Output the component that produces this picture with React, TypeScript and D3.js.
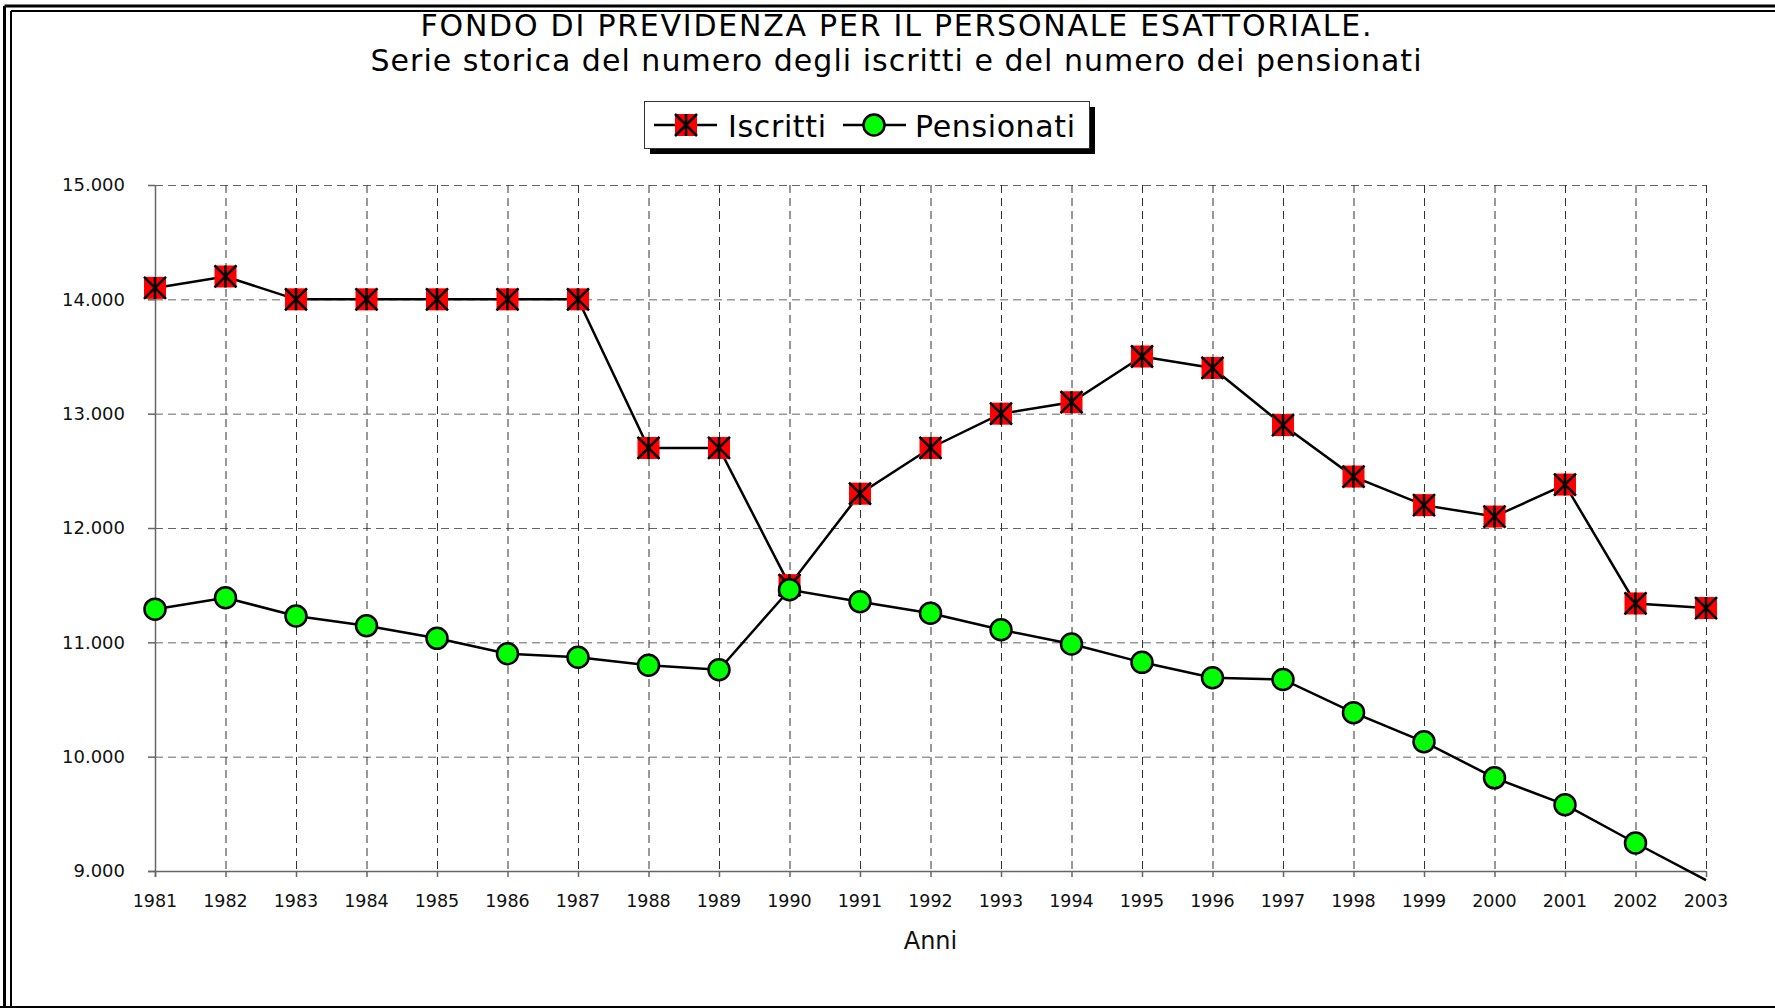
import { formatLocale, line, scaleLinear, scalePoint } from 'd3'

const years = [
  '1981', '1982', '1983', '1984', '1985', '1986', '1987', '1988', '1989', '1990', '1991', '1992',
  '1993', '1994', '1995', '1996', '1997', '1998', '1999', '2000', '2001', '2002', '2003',
]
const iscritti = [
  14100, 14200, 14000, 14000, 14000, 14000, 14000, 12700, 12700, 11500, 12300, 12700,
  13000, 13100, 13500, 13400, 12900, 12450, 12200, 12100, 12380, 11340, 11300,
]
const pensionati = [
  11290, 11390, 11230, 11145, 11035, 10900, 10870, 10800, 10760, 11460, 11355, 11255,
  11110, 10985, 10825, 10690, 10675, 10385, 10130, 9815, 9580, 9245, 8920,
]
const yTicks = [9000, 10000, 11000, 12000, 13000, 14000, 15000]
const titleLines = [
  'FONDO DI PREVIDENZA PER IL PERSONALE ESATTORIALE.',
  'Serie storica del numero degli iscritti e del numero dei pensionati',
]

const width = 1775
const height = 1008
const plot = { left: 155, right: 1706, top: 185, bottom: 871 }
const font = '"DejaVu Sans", Verdana, sans-serif'

const fmt = formatLocale({ decimal: ',', thousands: '.', grouping: [3], currency: ['', ''] }).format(',d')

const x = scalePoint<string>().domain(years).range([plot.left, plot.right])
const y = scaleLinear().domain([9000, 15000]).range([plot.bottom, plot.top])

// title line widths measured on the reference (its font runs a bit wider than DejaVu)
const titleWidths = [951, 1051]
const titleBaselines = [36, 71]

const CrossMarker = ({ cx, cy, s = 11 }: { cx: number; cy: number; s?: number }) => (
  <g>
    <rect x={cx - s} y={cy - s} width={s * 2} height={s * 2} fill="#ff0000" />
    <path
      d={`M${cx - s},${cy - s}L${cx + s},${cy + s}M${cx + s},${cy - s}L${cx - s},${cy + s}M${cx},${cy - s}L${cx},${cy + s}`}
      stroke="#000"
      strokeWidth={2.5}
    />
  </g>
)

const CircleMarker = ({ cx, cy }: { cx: number; cy: number }) => (
  <circle cx={cx} cy={cy} r={10.5} fill="#00ff00" stroke="#000" strokeWidth={2.5} />
)

const App = () => {
  const path = line<number>()
    .x((_, i) => x(years[i]) ?? 0)
    .y((d) => y(d))

  return (
    <svg
      width={width}
      height={height}
      style={{ position: 'absolute', left: 0, top: 0, background: '#fff', fontFamily: font }}
    >
      <rect width={width} height={height} fill="#fff" />

      {/* double frame */}
      <line x1={4.5} y1={6} x2={width} y2={6} stroke="#000" strokeWidth={3} />
      <line x1={4.5} y1={6} x2={4.5} y2={height} stroke="#000" strokeWidth={3} />
      <line x1={11} y1={11} x2={width} y2={11} stroke="#000" strokeWidth={2} />
      <line x1={11} y1={11} x2={11} y2={height} stroke="#000" strokeWidth={2} />
      <line x1={0} y1={height - 1} x2={width} y2={height - 1} stroke="#000" strokeWidth={2} />

      {/* title */}
      {titleLines.map((t, i) => (
        <text
          key={t}
          x={896 - titleWidths[i] / 2}
          y={titleBaselines[i]}
          fontSize={30}
          fill="#000"
          textLength={titleWidths[i]}
          lengthAdjust="spacing"
        >
          {t}
        </text>
      ))}

      {/* legend */}
      <g>
        <rect x={650} y={107} width={445} height={47} fill="#000" />
        <rect x={644.5} y={101.5} width={445} height={47} fill="#fff" stroke="#333" strokeWidth={1} />
        <line x1={654} x2={717} y1={125} y2={125} stroke="#000" strokeWidth={2.5} />
        <CrossMarker cx={686} cy={125} />
        <text x={728} y={137} fontSize={30} fill="#000" textLength={98} lengthAdjust="spacing">
          Iscritti
        </text>
        <line x1={843} x2={906} y1={125} y2={125} stroke="#000" strokeWidth={2.5} />
        <CircleMarker cx={874} cy={125} />
        <text x={915} y={137} fontSize={30} fill="#000" textLength={160} lengthAdjust="spacing">
          Pensionati
        </text>
      </g>

      {/* grid */}
      <g stroke="#666" strokeWidth={1} strokeDasharray="8,5" fill="none">
        {yTicks.slice(1).map((t) => (
          <line key={t} x1={plot.left} x2={plot.right} y1={y(t) + 0.5} y2={y(t) + 0.5} />
        ))}
      </g>
      <g stroke="#333" strokeWidth={1} strokeDasharray="8,5" fill="none">
        {years.slice(1).map((yr) => (
          <line key={yr} x1={(x(yr) ?? 0) + 0.5} x2={(x(yr) ?? 0) + 0.5} y1={plot.top} y2={plot.bottom} />
        ))}
      </g>

      {/* axes */}
      <g stroke="#666" strokeWidth={1.5}>
        <line x1={plot.left + 0.5} x2={plot.left + 0.5} y1={plot.top} y2={plot.bottom + 6} />
        <line x1={plot.left - 7} x2={plot.right} y1={plot.bottom + 0.5} y2={plot.bottom + 0.5} />
        {yTicks.map((t) => (
          <line key={t} x1={plot.left - 7} x2={plot.left} y1={y(t) + 0.5} y2={y(t) + 0.5} />
        ))}
        {years.map((yr) => (
          <line key={yr} x1={(x(yr) ?? 0) + 0.5} x2={(x(yr) ?? 0) + 0.5} y1={plot.bottom} y2={plot.bottom + 6} />
        ))}
      </g>

      <g fontSize={18} fill="#111">
        {yTicks.map((t) => (
          <text key={t} x={125} y={y(t)} dy="0.36em" textAnchor="end">
            {fmt(t)}
          </text>
        ))}
        {years.map((yr) => (
          <text key={yr} x={x(yr)} y={907} textAnchor="middle" fontSize={17.5}>
            {yr}
          </text>
        ))}
      </g>
      <text x={(plot.left + plot.right) / 2} y={949} textAnchor="middle" fontSize={24} fill="#111">
        Anni
      </text>

      {/* series */}
      <path d={path(iscritti) ?? ''} fill="none" stroke="#000" strokeWidth={2.5} />
      {iscritti.map((v, i) => (
        <CrossMarker key={years[i]} cx={x(years[i]) ?? 0} cy={y(v)} />
      ))}
      <path d={path(pensionati) ?? ''} fill="none" stroke="#000" strokeWidth={2.5} />
      {pensionati.map((v, i) =>
        v >= 9000 ? <CircleMarker key={years[i]} cx={x(years[i]) ?? 0} cy={y(v)} /> : null,
      )}
    </svg>
  )
}

export default App
